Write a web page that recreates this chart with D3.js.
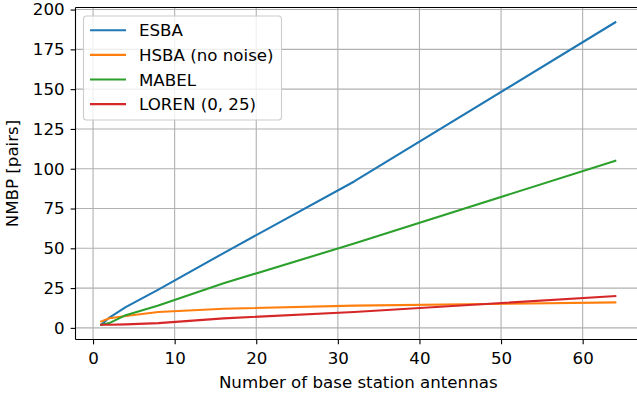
<!DOCTYPE html>
<html>
<head>
<meta charset="utf-8">
<script src="https://cdn.jsdelivr.net/npm/d3@7"></script>
<style>
  html, body { margin: 0; padding: 0; background: #fff; }
  svg { display: block; font-family: "DejaVu Sans", sans-serif; }
</style>
</head>
<body>
<svg id="chart" width="637" height="397"></svg>
<script>
// Antenna counts (x) and the NMBP of each scheme
const antennas = [1, 2, 4, 8, 16, 32, 64];
const esba  = [2, 6.5, 13, 24, 47, 92, 192];
const hsba  = [4, 6, 7.5, 10, 12, 14, 16];
const mabel = [2, 3, 8, 14, 28, 53, 105];
const loren = [2, 2, 2.2, 3, 6, 10, 20];

const seriesNames  = ["ESBA", "HSBA (no noise)", "MABEL", "LOREN (0, 25)"];
const seriesValues = [esba, hsba, mabel, loren];
const colors = ["#1f77b4", "#ff7f0e", "#2ca02c", "#d62728"];

const xTicks = [0, 10, 20, 30, 40, 50, 60];
const yTicks = [0, 25, 50, 75, 100, 125, 150, 175, 200];

const svg = d3.select("#chart");
const plot = { left: 75.5, top: 7.5, right: 641, bottom: 339.5 };

const x = d3.scaleLinear().domain([-2.15, 67.15]).range([plot.left, plot.right]);
const y = d3.scaleLinear().domain([-7.3, 201.3]).range([plot.bottom, plot.top]);

const fontSize = 16.67;
const tickLen = 4.86;

// clip area for data lines
svg.append("defs").append("clipPath").attr("id", "plotclip")
  .append("rect")
  .attr("x", plot.left).attr("y", plot.top)
  .attr("width", plot.right - plot.left).attr("height", plot.bottom - plot.top);

// grid lines
const grid = svg.append("g");
grid.selectAll(".gx").data(xTicks).join("line")
  .attr("x1", d => x(d)).attr("x2", d => x(d))
  .attr("y1", plot.top).attr("y2", plot.bottom)
  .attr("stroke", "#b0b0b0").attr("stroke-width", 1.1);
grid.selectAll(".gy").data(yTicks).join("line")
  .attr("x1", plot.left).attr("x2", plot.right)
  .attr("y1", d => y(d)).attr("y2", d => y(d))
  .attr("stroke", "#b0b0b0").attr("stroke-width", 1.1);

// data lines
const line = d3.line().x(d => x(d[0])).y(d => y(d[1]));
const lines = svg.append("g").attr("clip-path", "url(#plotclip)");
seriesValues.forEach((vals, i) => {
  lines.append("path")
    .datum(antennas.map((a, j) => [a, vals[j]]))
    .attr("d", line)
    .attr("fill", "none")
    .attr("stroke", colors[i])
    .attr("stroke-width", 2.1)
    .attr("stroke-linejoin", "round")
    .attr("stroke-linecap", "square");
});

// axes
const xAxis = d3.axisBottom(x).tickValues(xTicks).tickSize(tickLen).tickPadding(8);
const yAxis = d3.axisLeft(y).tickValues(yTicks).tickSize(tickLen).tickPadding(6);

const gx = svg.append("g").attr("transform", `translate(0,${plot.bottom})`).call(xAxis);
const gy = svg.append("g").attr("transform", `translate(${plot.left},0)`).call(yAxis);
[gx, gy].forEach(g => {
  g.select(".domain").remove();
  g.selectAll(".tick line").attr("stroke", "#000").attr("stroke-width", 1.1);
  g.selectAll(".tick text").attr("fill", "#000")
    .style("font-size", fontSize + "px").style("font-family", "DejaVu Sans");
});

// spines
const spine = svg.append("g").attr("stroke", "#000").attr("stroke-width", 1.1).attr("fill", "none");
spine.append("line").attr("x1", plot.left).attr("x2", plot.left).attr("y1", plot.top).attr("y2", plot.bottom);
spine.append("line").attr("x1", plot.left).attr("x2", plot.right).attr("y1", plot.top).attr("y2", plot.top);
spine.append("line").attr("x1", plot.left).attr("x2", plot.right).attr("y1", plot.bottom).attr("y2", plot.bottom);
spine.append("line").attr("x1", plot.right).attr("x2", plot.right).attr("y1", plot.top).attr("y2", plot.bottom);

// axis labels
svg.append("text")
  .attr("x", (plot.left + plot.right) / 2).attr("y", 388)
  .attr("text-anchor", "middle")
  .style("font-size", fontSize + "px")
  .text("Number of base station antennas");

svg.append("text")
  .attr("transform", `translate(18,${(plot.top + plot.bottom) / 2}) rotate(-90)`)
  .attr("text-anchor", "middle")
  .style("font-size", fontSize + "px")
  .text("NMBP [pairs]");

// legend
const legend = svg.append("g");
legend.append("rect")
  .attr("x", 83.5).attr("y", 16).attr("width", 198).attr("height", 104)
  .attr("rx", 3).attr("ry", 3)
  .attr("fill", "rgba(255,255,255,0.8)")
  .attr("stroke", "#cccccc").attr("stroke-width", 1.1);
seriesNames.forEach((name, i) => {
  const ly = 30.3 + i * 24.6;
  legend.append("line")
    .attr("x1", 90).attr("x2", 126).attr("y1", ly).attr("y2", ly)
    .attr("stroke", colors[i]).attr("stroke-width", 2.1);
  legend.append("text")
    .attr("x", 139).attr("y", ly).attr("dy", "0.36em")
    .style("font-size", fontSize + "px")
    .text(name);
});
</script>
</body>
</html>
